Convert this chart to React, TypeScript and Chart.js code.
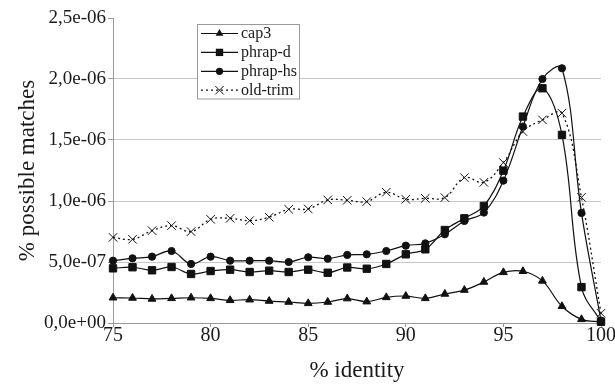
import React, { useEffect, useRef } from 'react';
import { Chart, registerables } from 'chart.js';

Chart.register(...registerables);

// % identity (x values)
const identity = [75, 76, 77, 78, 79, 80, 81, 82, 83, 84, 85, 86, 87, 88, 89, 90, 91, 92, 93, 94, 95, 96, 97, 98, 99, 100];

// % possible matches per program
const cap3 = [2.07e-7, 2.05e-7, 1.97e-7, 2.02e-7, 2.07e-7, 2.02e-7, 1.86e-7, 1.91e-7, 1.80e-7, 1.72e-7, 1.61e-7, 1.72e-7, 2.0e-7, 1.75e-7, 2.1e-7, 2.21e-7, 2.02e-7, 2.38e-7, 2.7e-7, 3.36e-7, 4.15e-7, 4.24e-7, 3.45e-7, 1.37e-7, 0.3e-7, 0.1e-7];
const phrapD = [4.48e-7, 4.57e-7, 4.32e-7, 4.59e-7, 4.02e-7, 4.26e-7, 4.37e-7, 4.18e-7, 4.29e-7, 4.18e-7, 4.37e-7, 4.12e-7, 4.55e-7, 4.45e-7, 4.84e-7, 5.63e-7, 6.04e-7, 7.62e-7, 8.58e-7, 9.6e-7, 12.49e-7, 16.92e-7, 19.24e-7, 15.42e-7, 2.94e-7, 0.1e-7];
const phrapHs = [5.11e-7, 5.3e-7, 5.44e-7, 5.9e-7, 4.84e-7, 5.44e-7, 5.11e-7, 5.11e-7, 5.11e-7, 5.0e-7, 5.39e-7, 5.27e-7, 5.58e-7, 5.63e-7, 5.9e-7, 6.34e-7, 6.53e-7, 7.27e-7, 8.36e-7, 9.05e-7, 11.67e-7, 16.1e-7, 20.0e-7, 20.88e-7, 9.02e-7, 0.2e-7];
const oldTrim = [7.02e-7, 6.86e-7, 7.57e-7, 7.98e-7, 7.49e-7, 8.5e-7, 8.58e-7, 8.39e-7, 8.67e-7, 9.32e-7, 9.35e-7, 10.09e-7, 10.06e-7, 9.95e-7, 10.72e-7, 10.14e-7, 10.22e-7, 10.28e-7, 11.92e-7, 11.53e-7, 13.15e-7, 15.69e-7, 16.65e-7, 17.2e-7, 10.3e-7, 0.8e-7];

const seriesNames = ['cap3', 'phrap-d', 'phrap-hs', 'old-trim'];
const xTitle = '% identity';
const yTitle = '% possible matches';
const xMin = 75;
const xMax = 100;
const xStep = 5;
const yMin = 0;
const yMax = 2.5e-6;
const yStep = 5e-7;

const FONT = "'Liberation Serif', 'Times New Roman', serif";
const INK = '#1a1a1a';
const AXIS = '#9a9a9a';
const GRID = '#c8c8c8';

function fmtSci(v: number): string {
  if (Math.abs(v) < 1e-15) return '0,0e+00';
  const parts = v.toExponential(1).split('e');
  const n = parseInt(parts[1], 10);
  const sign = n < 0 ? '-' : '+';
  return parts[0].replace('.', ',') + 'e' + sign + String(Math.abs(n)).padStart(2, '0');
}

function toPoints(values: number[]) {
  return identity.map((x, i) => ({ x, y: values[i] }));
}

function drawMarker(ctx: CanvasRenderingContext2D, style: string, x: number, y: number, r: number) {
  ctx.beginPath();
  if (style === 'triangle') {
    ctx.moveTo(x, y - r);
    ctx.lineTo(x + 0.866 * r, y + r / 2);
    ctx.lineTo(x - 0.866 * r, y + r / 2);
    ctx.closePath();
    ctx.fill();
  } else if (style === 'rect') {
    const s = Math.SQRT1_2 * r;
    ctx.rect(x - s, y - s, 2 * s, 2 * s);
    ctx.fill();
  } else if (style === 'circle') {
    ctx.arc(x, y, r, 0, Math.PI * 2);
    ctx.fill();
  } else if (style === 'crossRot') {
    const o = Math.SQRT1_2 * r;
    ctx.moveTo(x - o, y - o);
    ctx.lineTo(x + o, y + o);
    ctx.moveTo(x - o, y + o);
    ctx.lineTo(x + o, y - o);
    ctx.setLineDash([]);
    ctx.stroke();
  }
}

const legendPlugin = {
  id: 'boxLegend',
  afterDraw(chart: any) {
    const ctx: CanvasRenderingContext2D = chart.ctx;
    const bx = 197.5, by = 24.5, bw = 102, bh = 74.5;
    ctx.save();
    ctx.fillStyle = '#ffffff';
    ctx.fillRect(bx, by, bw, bh);
    ctx.strokeStyle = AXIS;
    ctx.lineWidth = 1;
    ctx.strokeRect(bx, by, bw, bh);
    chart.data.datasets.forEach((ds: any, i: number) => {
      const y = 33.5 + i * 18.9;
      ctx.strokeStyle = '#111';
      ctx.fillStyle = '#111';
      ctx.lineWidth = 1.2;
      ctx.setLineDash(ds.borderDash || []);
      ctx.beginPath();
      ctx.moveTo(201, y);
      ctx.lineTo(238, y);
      ctx.stroke();
      ctx.setLineDash([]);
      ctx.lineWidth = 1;
      drawMarker(ctx, ds.pointStyle, 219.5, y, ds.pointRadius);
      ctx.fillStyle = INK;
      ctx.font = `16px ${FONT}`;
      ctx.textAlign = 'left';
      ctx.textBaseline = 'middle';
      ctx.fillText(ds.label, 241, y + 0.5);
    });
    ctx.restore();
  },
};

export default function App() {
  const canvasRef = useRef<HTMLCanvasElement | null>(null);

  useEffect(() => {
    document.body.style.margin = '0';
    const canvas = canvasRef.current;
    if (!canvas) return;
    const common = {
      borderColor: '#111',
      backgroundColor: '#111',
      pointBackgroundColor: '#111',
      pointBorderColor: '#111',
      borderWidth: 1.2,
      pointBorderWidth: 1,
      tension: 0.38,
      clip: false as any,
      fill: false,
    };
    const chart = new Chart(canvas, {
      type: 'line',
      data: {
        datasets: [
          { ...common, label: seriesNames[0], data: toPoints(cap3), pointStyle: 'triangle', pointRadius: 4.5 },
          { ...common, label: seriesNames[1], data: toPoints(phrapD), pointStyle: 'rect', pointRadius: 5.2 },
          { ...common, label: seriesNames[2], data: toPoints(phrapHs), pointStyle: 'circle', pointRadius: 3.6 },
          { ...common, label: seriesNames[3], data: toPoints(oldTrim), pointStyle: 'crossRot', pointRadius: 6, borderDash: [2, 3], borderWidth: 1.3 },
        ] as any,
      },
      options: {
        animation: false,
        responsive: false,
        devicePixelRatio: 1,
        layout: { padding: { top: 18, right: 14, left: 0, bottom: 0 } },
        plugins: {
          legend: { display: false },
          tooltip: { enabled: false },
        },
        scales: {
          x: {
            type: 'linear',
            min: xMin,
            max: xMax,
            afterFit(scale: any) { scale.height = 62; },
            ticks: {
              stepSize: xStep,
              color: INK,
              font: { family: FONT, size: 20 },
              padding: -3,
              maxRotation: 0,
            },
            grid: { drawOnChartArea: false, tickLength: 4, tickColor: AXIS },
            border: { color: AXIS, width: 1 },
            title: {
              display: true,
              text: xTitle,
              color: INK,
              font: { family: FONT, size: 23 },
              padding: { top: 0, bottom: 0 },
            },
          },
          y: {
            type: 'linear',
            min: yMin,
            max: yMax,
            afterFit(scale: any) { scale.width = 113; },
            ticks: {
              stepSize: yStep,
              color: INK,
              font: { family: FONT, size: 19 },
              padding: 2,
              callback: (v: any) => fmtSci(Number(v)),
            },
            grid: {
              color: (c: any) => (c.tick && Math.abs(c.tick.value - yMax) < 1e-12 ? 'rgba(0,0,0,0)' : GRID),
              tickLength: 5,
              tickColor: AXIS,
            },
            border: { color: AXIS, width: 1 },
            title: {
              display: true,
              text: yTitle,
              color: INK,
              font: { family: FONT, size: 23 },
              padding: { top: 14, bottom: 0 },
            },
          },
        },
      } as any,
      plugins: [legendPlugin],
    });
    return () => chart.destroy();
  }, []);

  return (
    <div style={{ position: 'absolute', left: 0, top: 0, width: 615, height: 385, background: '#fff' }}>
      <canvas ref={canvasRef} width={615} height={385} />
    </div>
  );
}
